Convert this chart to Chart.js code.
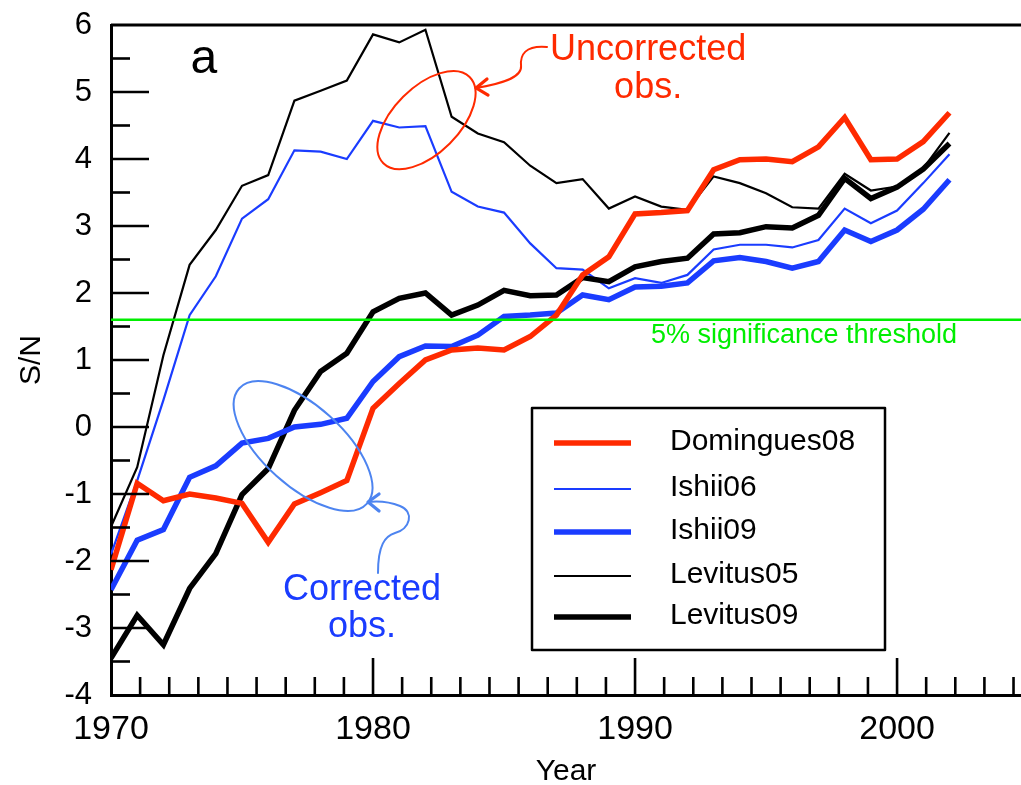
<!DOCTYPE html>
<html>
<head>
<meta charset="utf-8">
<script src="https://cdn.jsdelivr.net/npm/chart.js@4.4.1/dist/chart.umd.min.js"></script>
<style>
html,body{margin:0;padding:0;background:#fff;overflow:hidden}
#wrap{width:1021px;height:785px;position:relative}
</style>
</head>
<body>
<div id="wrap"><canvas id="c" width="1021" height="785"></canvas></div>
<script>
// ---- data ----
const years = [1970,1971,1972,1973,1974,1975,1976,1977,1978,1979,1980,1981,1982,1983,1984,1985,1986,1987,1988,1989,1990,1991,1992,1993,1994,1995,1996,1997,1998,1999,2000,2001,2002];
const domingues08 = [-2.13,-0.84,-1.10,-1.00,-1.06,-1.14,-1.72,-1.15,-0.98,-0.80, 0.28,0.65,1.00,1.15,1.18,1.15,1.35,1.67,2.27,2.54, 3.18,3.20,3.23,3.84,3.99,4.00,3.96,4.18,4.62,3.99, 4.00,4.26,4.69];
const ishii06 = [-1.90,-0.80,0.40,1.67,2.25,3.11,3.40,4.13,4.11,4.00, 4.57,4.47,4.49,3.51,3.29,3.20,2.74,2.37,2.35,2.07, 2.22,2.15,2.27,2.65,2.72,2.72,2.68,2.79,3.26,3.04, 3.23,3.64,4.07];
const ishii09 = [-2.43,-1.69,-1.53,-0.75,-0.58,-0.24,-0.17,0.00,0.04,0.13, 0.68,1.05,1.21,1.20,1.37,1.65,1.67,1.70,1.97,1.90, 2.09,2.10,2.15,2.48,2.53,2.47,2.37,2.47,2.94,2.77, 2.94,3.25,3.69];
const levitus05 = [-1.49,-0.60,1.07,2.42,2.94,3.60,3.76,4.87,5.02,5.17, 5.86,5.74,5.93,4.63,4.38,4.25,3.90,3.64,3.70,3.26, 3.44,3.29,3.24,3.74,3.64,3.49,3.28,3.26,3.78,3.53, 3.59,3.86,4.39];
const levitus09 = [-3.45,-2.81,-3.25,-2.41,-1.89,-1.01,-0.62,0.25,0.83,1.10, 1.72,1.92,2.00,1.67,1.82,2.04,1.96,1.97,2.23,2.17, 2.39,2.47,2.52,2.88,2.90,2.99,2.97,3.16,3.71,3.41, 3.58,3.85,4.23];
const threshold = 1.6;
const xTickLabels = [1970,1980,1990,2000];
const yTickLabels = [-4,-3,-2,-1,0,1,2,3,4,5,6];
const legendOrder = ['Domingues08','Ishii06','Ishii09','Levitus05','Levitus09'];

const X_MIN = 1970, X_MAX = 2004.73, Y_MIN = -4, Y_MAX = 6;
const RED = '#ff2a00', BLUE = '#1a3cff', GREEN = '#00ee00', BLACK = '#000000', LBLUE = '#4d84f0';
const FONT = '"Liberation Sans", Arial, Helvetica, sans-serif';
Chart.defaults.font.family = FONT;

const pts = arr => years.map((yr, i) => ({x: yr, y: arr[i]}));

// ---- decorations plugin (frame, inward ticks, legend, annotations) ----
const decor = {
  id: 'decor',
  afterDatasetsDraw(chart) {
    const {ctx, chartArea: a, scales: {x, y}} = chart;
    const P = (vx, vy) => [x.getPixelForValue(vx), y.getPixelForValue(vy)];
    ctx.save();
    // top frame line
    ctx.strokeStyle = BLACK; ctx.lineWidth = 3;
    ctx.beginPath(); ctx.moveTo(a.left, a.top); ctx.lineTo(a.right, a.top); ctx.stroke();
    // y ticks (inward)
    ctx.lineWidth = 2.6;
    for (let v = Y_MIN + 0.5; v < Y_MAX; v += 0.5) {
      const py = y.getPixelForValue(v);
      const len = Number.isInteger(v) ? 38 : 19;
      ctx.beginPath(); ctx.moveTo(a.left, py); ctx.lineTo(a.left + len, py); ctx.stroke();
    }
    // x ticks: 9 subdivisions per decade
    for (let k = 1; ; k++) {
      const v = X_MIN + k * 10 / 9;
      if (v > X_MAX) break;
      const px = x.getPixelForValue(v);
      const len = (k % 9 === 0) ? 37 : 18;
      ctx.beginPath(); ctx.moveTo(px, a.bottom); ctx.lineTo(px, a.bottom - len); ctx.stroke();
    }

    // threshold label
    ctx.fillStyle = GREEN; ctx.font = '27px ' + FONT; ctx.textAlign = 'center'; ctx.textBaseline = 'alphabetic';
    let p = P(1996.45, 1.254);
    ctx.fillText('5% significance threshold', p[0], p[1]);

    // panel letter
    ctx.fillStyle = BLACK; ctx.font = '48px ' + FONT;
    p = P(1973.54, 5.279); ctx.fillText('a', p[0], p[1]);

    // annotations text
    ctx.font = '36px ' + FONT;
    ctx.fillStyle = RED;
    p = P(1990.5, 5.478); ctx.fillText('Uncorrected', p[0], p[1]);
    p = P(1990.5, 4.906); ctx.fillText('obs.', p[0], p[1]);
    ctx.fillStyle = BLUE;
    p = P(1979.58, -2.582); ctx.fillText('Corrected', p[0], p[1]);
    p = P(1979.58, -3.130); ctx.fillText('obs.', p[0], p[1]);

    // ellipses
    const ell = (cx, cy, rx, ry, rot, col) => {
      const c = P(cx, cy);
      ctx.strokeStyle = col; ctx.lineWidth = 2;
      ctx.beginPath(); ctx.ellipse(c[0], c[1], rx, ry, rot, 0, Math.PI * 2); ctx.stroke();
    };
    ell(1982.04, 4.58, 61, 33, -Math.PI / 4, RED);
    ell(1977.33, -0.284, 86, 40, 42 * Math.PI / 180, LBLUE);

    // curved arrows
    const path = (col, segs, tip, arm1, arm2) => {
      ctx.strokeStyle = col; ctx.lineWidth = 2; ctx.lineCap = 'round'; ctx.lineJoin = 'round';
      ctx.beginPath();
      const s = P(segs[0][0], segs[0][1]); ctx.moveTo(s[0], s[1]);
      for (let i = 1; i < segs.length; i++) {
        const g = segs[i].map(q => P(q[0], q[1]));
        if (g.length === 3) ctx.bezierCurveTo(g[0][0], g[0][1], g[1][0], g[1][1], g[2][0], g[2][1]);
        else ctx.quadraticCurveTo(g[0][0], g[0][1], g[1][0], g[1][1]);
      }
      ctx.stroke();
      const t = P(tip[0], tip[1]), a1 = P(arm1[0], arm1[1]), a2 = P(arm2[0], arm2[1]);
      ctx.lineWidth = 3.2;
      ctx.beginPath(); ctx.moveTo(a1[0], a1[1]); ctx.lineTo(t[0], t[1]); ctx.lineTo(a2[0], a2[1]); ctx.stroke();
    };
    path(RED, [[1986.64, 5.672], [[1985.80, 5.701], [1985.61, 5.552], [1985.65, 5.388]], [[1985.69, 5.209], [1984.85, 5.119], [1983.93, 5.060]]],
         [1983.93, 5.060], [1984.35, 5.194], [1984.39, 4.955]);
    path(LBLUE, [[1980.19, -2.179], [[1980.19, -1.761], [1980.46, -1.627], [1980.84, -1.582]], [[1981.41, -1.522], [1981.60, -1.269], [1981.03, -1.179]], [[1980.46, -1.090], [1979.81, -1.119]]],
         [1979.81, -1.119], [1980.23, -1.0], [1980.23, -1.254]);

    // legend box
    const L = {left: 532, top: 408, right: 885, bottom: 650, x1: 554, x2: 631, tx: 670, rows: [443, 489, 532, 576, 617]};
    ctx.fillStyle = '#fff';
    ctx.fillRect(L.left, L.top, L.right - L.left, L.bottom - L.top);
    ctx.strokeStyle = BLACK; ctx.lineWidth = 2.5; ctx.lineCap = 'butt';
    ctx.strokeRect(L.left, L.top, L.right - L.left, L.bottom - L.top);
    ctx.font = '30px ' + FONT; ctx.textAlign = 'left'; ctx.textBaseline = 'middle';
    legendOrder.forEach((name, i) => {
      const ds = chart.data.datasets.find(d => d.label === name);
      const ry = L.rows[i];
      ctx.strokeStyle = ds.borderColor; ctx.lineWidth = ds.borderWidth;
      ctx.beginPath(); ctx.moveTo(L.x1, ry); ctx.lineTo(L.x2, ry); ctx.stroke();
      ctx.fillStyle = BLACK; ctx.fillText(name, L.tx, ry - 1);
    });
    ctx.restore();
  }
};

new Chart(document.getElementById('c'), {
  type: 'line',
  data: {
    datasets: [
      {label: 'threshold', data: [{x: X_MIN, y: threshold}, {x: X_MAX, y: threshold}], borderColor: GREEN, borderWidth: 2.6, order: 0},
      {label: 'Domingues08', data: pts(domingues08), borderColor: RED, borderWidth: 5.5, order: 1},
      {label: 'Ishii09', data: pts(ishii09), borderColor: BLUE, borderWidth: 5.5, order: 2},
      {label: 'Levitus09', data: pts(levitus09), borderColor: BLACK, borderWidth: 5.5, order: 3},
      {label: 'Ishii06', data: pts(ishii06), borderColor: BLUE, borderWidth: 2.2, order: 4},
      {label: 'Levitus05', data: pts(levitus05), borderColor: BLACK, borderWidth: 2.2, order: 5}
    ]
  },
  options: {
    responsive: false,
    animation: false,
    layout: {padding: {top: 25, left: 0, right: 0, bottom: 0}},
    elements: {point: {radius: 0}, line: {tension: 0, fill: false}},
    plugins: {legend: {display: false}, tooltip: {enabled: false}},
    scales: {
      x: {
        type: 'linear', min: X_MIN, max: X_MAX,
        afterBuildTicks: s => { s.ticks = xTickLabels.map(v => ({value: v})); },
        afterFit: s => { s.height = 90; s.paddingLeft = 0; s.paddingRight = 0; },
        grid: {display: false, drawTicks: false},
        border: {display: true, color: BLACK, width: 3},
        ticks: {color: BLACK, font: {size: 34}, padding: 14, maxRotation: 0, autoSkip: false, callback: v => String(v)},
        title: {display: true, text: 'Year', color: BLACK, font: {size: 30, lineHeight: 1}, padding: {top: 0, bottom: -2}}
      },
      y: {
        type: 'linear', min: Y_MIN, max: Y_MAX,
        afterBuildTicks: s => { s.ticks = yTickLabels.map(v => ({value: v})); },
        afterFit: s => { s.width = 111; s.paddingTop = 0; s.paddingBottom = 0; },
        grid: {display: false, drawTicks: false},
        border: {display: true, color: BLACK, width: 3},
        ticks: {color: BLACK, font: {size: 31}, padding: 19, autoSkip: false, callback: v => String(v)},
        title: {display: true, text: 'S/N', color: BLACK, font: {size: 30, lineHeight: 1}, padding: {top: 17, bottom: 0}}
      }
    }
  },
  plugins: [decor]
});
</script>
</body>
</html>
